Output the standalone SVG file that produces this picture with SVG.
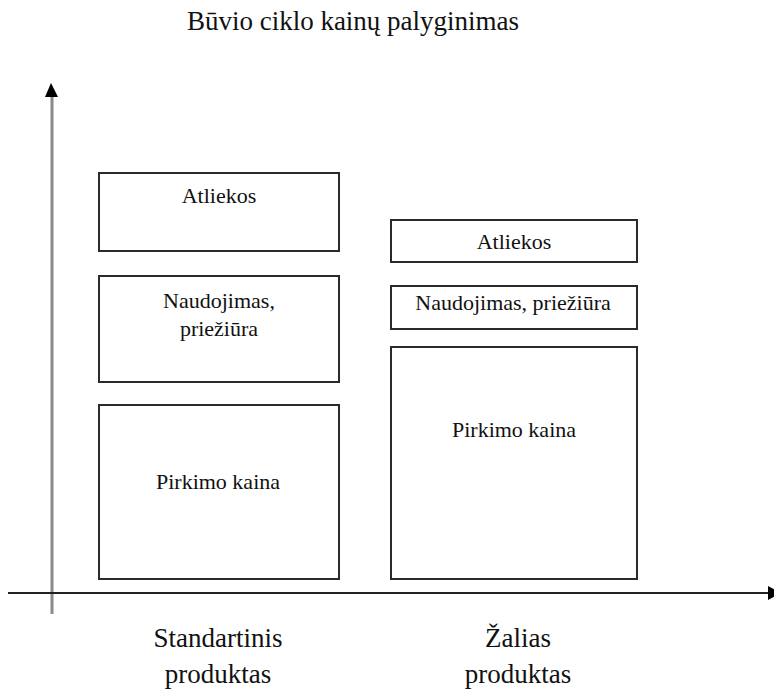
<svg xmlns="http://www.w3.org/2000/svg" width="774" height="690" viewBox="0 0 774 690">
<style>
.box{fill:#fff;stroke:#2a2a2a;stroke-width:2}
text{font-family:"Liberation Serif","Times New Roman",Times,serif;fill:#111;text-anchor:middle}
.bt{font-size:22px}
.lab{font-size:27px}
</style>
<rect width="774" height="690" fill="#fff"/>
<text x="353" y="30" font-size="27">Būvio ciklo kainų palyginimas</text>
<g id="connectors">
<line x1="52" y1="614" x2="52" y2="95" stroke="#8a8a8a" stroke-width="3"/>
<polygon points="51,83 45,97 58,97" fill="#000"/>
<line x1="8" y1="593" x2="768" y2="593" stroke="#222" stroke-width="2"/>
<polygon points="768,586 781,593 768,600" fill="#000"/>
</g>
<g id="std-atliekos"><rect class="box" x="99" y="173" width="240" height="78"/><text class="bt" x="219" y="203">Atliekos</text></g>
<g id="std-naudojimas"><rect class="box" x="99" y="276" width="240" height="106"/><text class="bt" x="219" y="308">Naudojimas,</text><text class="bt" x="219" y="336">priežiūra</text></g>
<g id="std-pirkimo"><rect class="box" x="99" y="405" width="240" height="174"/><text class="bt" x="218" y="489">Pirkimo kaina</text></g>
<g id="z-atliekos"><rect class="box" x="391" y="220" width="246" height="42"/><text class="bt" x="514" y="249">Atliekos</text></g>
<g id="z-naudojimas"><rect class="box" x="391" y="286" width="246" height="43"/><text class="bt" x="513" y="310">Naudojimas, priežiūra</text></g>
<g id="z-pirkimo"><rect class="box" x="391" y="347" width="246" height="232"/><text class="bt" x="514" y="437">Pirkimo kaina</text></g>
<g id="label-std"><text class="lab" x="218" y="647">Standartinis</text><text class="lab" x="218" y="683">produktas</text></g>
<g id="label-z"><text class="lab" x="518" y="647">Žalias</text><text class="lab" x="518" y="683">produktas</text></g>
</svg>
